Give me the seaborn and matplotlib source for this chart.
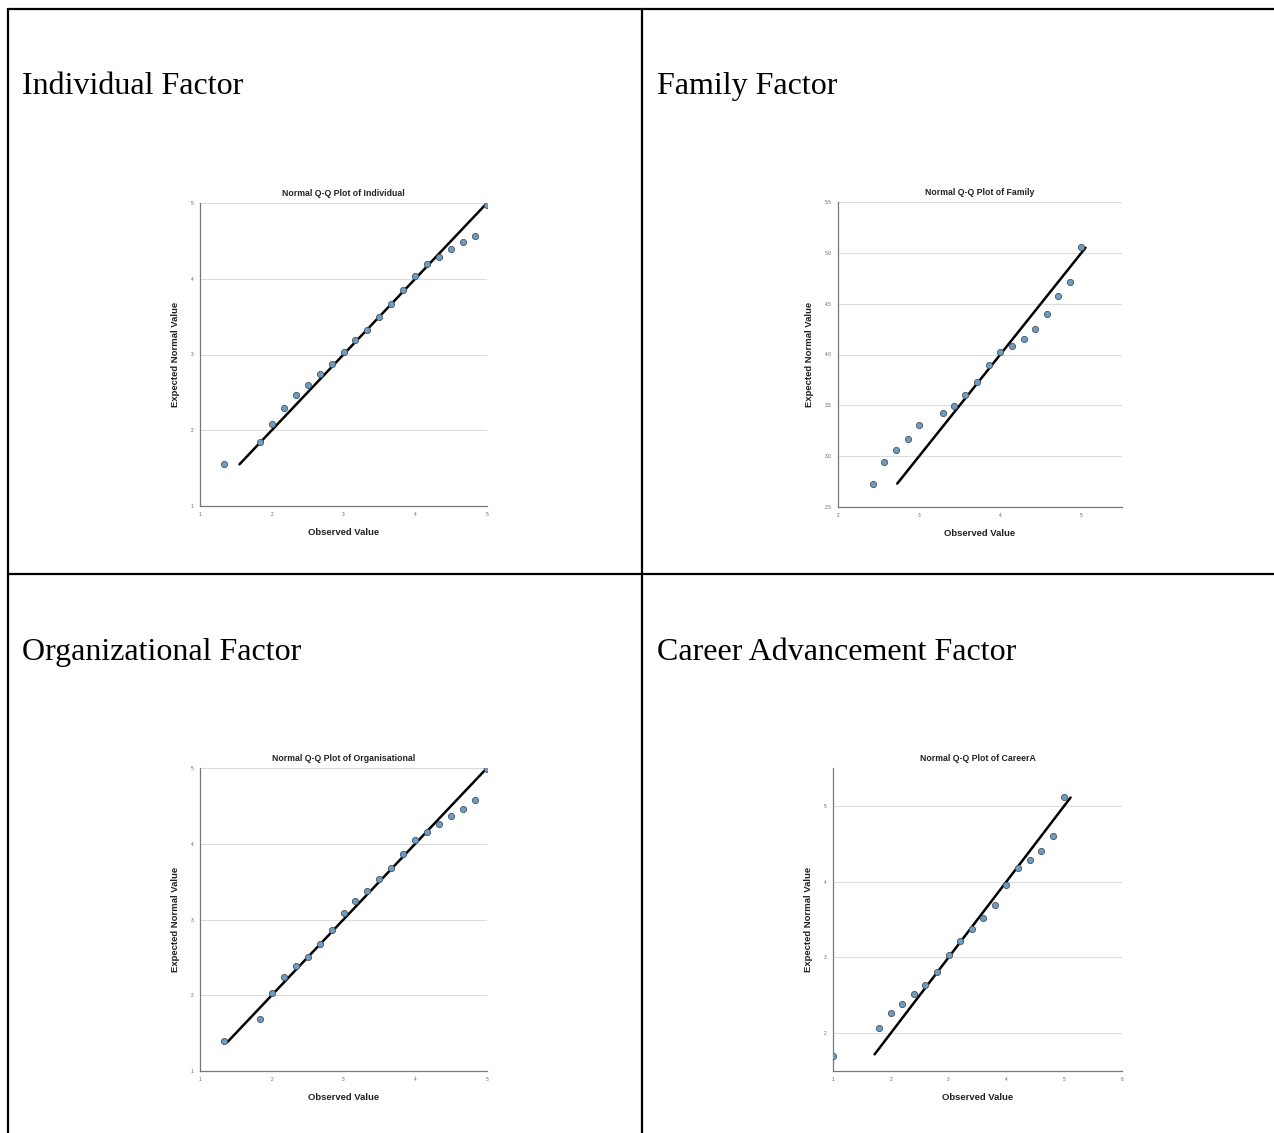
import matplotlib
matplotlib.use("Agg")
import matplotlib.pyplot as plt
import seaborn as sns
import pandas as pd
from matplotlib.lines import Line2D

# values
ind_observed = [1.333, 1.833, 2.0, 2.167, 2.333, 2.5, 2.667, 2.833, 3.0, 3.167, 3.333,
                3.5, 3.667, 3.833, 4.0, 4.167, 4.333, 4.5, 4.667, 4.833, 5.0]
ind_expected = [1.56, 1.85, 2.08, 2.30, 2.46, 2.60, 2.74, 2.88, 3.03, 3.19, 3.32,
                3.49, 3.67, 3.85, 4.04, 4.19, 4.29, 4.39, 4.49, 4.56, 4.98]
ind_line = [1.55, 5.0]

fam_observed = [2.43, 2.57, 2.71, 2.86, 3.0, 3.29, 3.43, 3.57, 3.71, 3.86, 4.0,
                4.14, 4.29, 4.43, 4.57, 4.71, 4.86, 5.0]
fam_expected = [2.73, 2.94, 3.06, 3.17, 3.31, 3.42, 3.49, 3.60, 3.73, 3.90, 4.02,
                4.08, 4.15, 4.25, 4.40, 4.58, 4.71, 5.06]
fam_line = [2.73, 5.05]

org_observed = [1.333, 1.833, 2.0, 2.167, 2.333, 2.5, 2.667, 2.833, 3.0, 3.167, 3.333,
                3.5, 3.667, 3.833, 4.0, 4.167, 4.333, 4.5, 4.667, 4.833, 5.0]
org_expected = [1.39, 1.69, 2.03, 2.24, 2.38, 2.50, 2.67, 2.86, 3.08, 3.24, 3.38,
                3.53, 3.68, 3.86, 4.05, 4.16, 4.26, 4.36, 4.46, 4.58, 4.99]
org_line = [1.38, 5.0]

car_observed = [1.0, 1.8, 2.0, 2.2, 2.4, 2.6, 2.8, 3.0, 3.2, 3.4, 3.6, 3.8, 4.0,
                4.2, 4.4, 4.6, 4.8, 5.0]
car_expected = [1.70, 2.07, 2.26, 2.39, 2.51, 2.64, 2.81, 3.03, 3.22, 3.37, 3.52,
                3.69, 3.95, 4.18, 4.28, 4.40, 4.60, 5.12]
car_line = [1.72, 5.11]

headers = ["Individual Factor", "Family Factor", "Organizational Factor",
           "Career Advancement Factor"]
plot_titles = ["Normal Q-Q Plot of Individual", "Normal Q-Q Plot of Family",
               "Normal Q-Q Plot of Organisational", "Normal Q-Q Plot of CareerA"]

W, H = 1274, 1133
sns.set_style("white")
plt.rcParams['font.family'] = ['Liberation Sans', 'DejaVu Sans']
plt.rcParams['text.color'] = 'black'
plt.rcParams['axes.labelcolor'] = 'black'

fig = plt.figure(figsize=(W / 100, H / 100), dpi=100)
fig.patch.set_facecolor("white")


def px_line(x0, y0, x1, y1):
    fig.add_artist(Line2D([x0 / W, x1 / W], [1 - y0 / H, 1 - y1 / H],
                          color="black", lw=1.6, transform=fig.transFigure))


# table borders
px_line(8, 9, W, 9)
px_line(8, 9, 8, H)
px_line(642, 9, 642, H)
px_line(8, 574, W, 574)

header_pos = [(22, 94), (657, 94), (22, 660), (657, 660)]
for (hx, hy), txt in zip(header_pos, headers):
    fig.text(hx / W, 1 - hy / H, txt, family="Liberation Serif", fontsize=23,
             ha="left", va="baseline", color="black")

panels = [
    dict(box=(200, 203, 487, 506), obs=ind_observed, exp=ind_expected, line=ind_line,
         xlim=(1, 5), ylim=(1, 5), xt=[1, 2, 3, 4, 5], yt=[1, 2, 3, 4, 5], fmt="{:g}"),
    dict(box=(838, 202, 1122, 507), obs=fam_observed, exp=fam_expected, line=fam_line,
         xlim=(2, 5.5), ylim=(2.5, 5.5), xt=[2, 3, 4, 5],
         yt=[2.5, 3.0, 3.5, 4.0, 4.5, 5.0, 5.5], fmt="{:.1f}"),
    dict(box=(200, 768, 487, 1071), obs=org_observed, exp=org_expected, line=org_line,
         xlim=(1, 5), ylim=(1, 5), xt=[1, 2, 3, 4, 5], yt=[1, 2, 3, 4, 5], fmt="{:g}"),
    dict(box=(833, 768, 1122, 1071), obs=car_observed, exp=car_expected, line=car_line,
         xlim=(1, 6), ylim=(1.5, 5.5), xt=[1, 2, 3, 4, 5, 6], yt=[2, 3, 4, 5], fmt="{:g}"),
]

for p, title in zip(panels, plot_titles):
    l, t, r, b = p["box"]
    ax = fig.add_axes([l / W, 1 - b / H, (r - l) / W, (b - t) / H])
    ax.set_facecolor("white")
    ax.set_xlim(*p["xlim"])
    ax.set_ylim(*p["ylim"])
    ax.set_yticks(p["yt"])
    ax.set_xticks(p["xt"])
    ax.set_yticklabels([p["fmt"].format(v) for v in p["yt"]])
    ax.set_xticklabels([str(v) for v in p["xt"]])
    ax.tick_params(labelsize=3.5, labelcolor="#666666", length=1.5, width=0.5,
                   color="#888888", pad=3)
    for g in p["yt"]:
        if g > p["ylim"][0]:
            ax.axhline(g, color="#dddddd", lw=0.8, zorder=0)
    for s in ["top", "right"]:
        ax.spines[s].set_visible(False)
    for s in ["left", "bottom"]:
        ax.spines[s].set_color("#777777")
        ax.spines[s].set_linewidth(0.9)

    df = pd.DataFrame({"obs": p["obs"], "exp": p["exp"]})
    ref = pd.DataFrame({"x": p["line"], "y": p["line"]})
    sns.lineplot(data=ref, x="x", y="y", ax=ax, color="black", lw=1.8, zorder=2)
    sns.scatterplot(data=df, x="obs", y="exp", ax=ax, s=20, color="#6f9cc2",
                    edgecolor="#46525e", linewidth=0.6, zorder=3)

    ax.set_title(title, fontsize=6.3, fontweight="bold", pad=5, color="#222222")
    ax.set_xlabel("Observed Value", fontsize=6.8, fontweight="bold", labelpad=8,
                  color="#222222")
    ax.set_ylabel("Expected Normal Value", fontsize=6.8, fontweight="bold", labelpad=8,
                  color="#222222")

fig.savefig("out.png", dpi=100, facecolor="white")
